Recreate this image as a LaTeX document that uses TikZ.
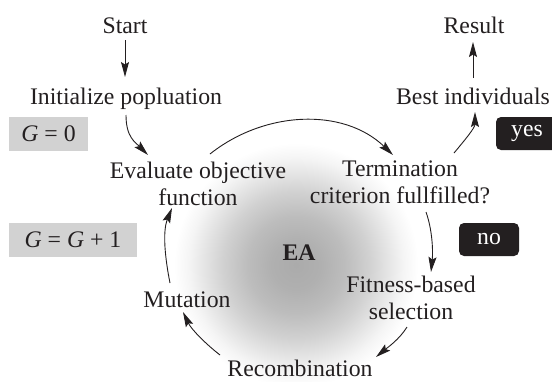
\documentclass[tikz,border=0pt]{standalone}
\usepackage{fontspec}
\setmainfont{Liberation Serif}
\usetikzlibrary{arrows.meta,calc}
\definecolor{ink}{HTML}{231F20}
\definecolor{boxgray}{HTML}{D2D2D2}
\pgfdeclareradialshading{eashade}{\pgfpoint{0bp}{0bp}}{%
  color(0bp)=(black!33); color(5bp)=(black!31); color(10bp)=(black!26);
  color(15bp)=(black!18); color(19bp)=(black!10); color(22bp)=(black!4); color(25bp)=(white); color(50bp)=(white)}
\tikzset{
  lbl/.style={inner sep=0pt, text=ink, font=\fontsize{23.75}{27}\selectfont, align=center},
  graybox/.style={fill=boxgray, inner sep=0pt, text=ink, font=\fontsize{23.75}{27}\selectfont},
  blackbox/.style={fill=ink, rounded corners=5pt, inner sep=0pt, text=white, font=\fontsize{23.75}{27}\selectfont},
  arr/.style={draw=ink, line width=0.9pt, -{Stealth[length=15pt,width=8pt,inset=2.5pt]}}
}
\begin{document}
\begin{tikzpicture}[x=1pt,y=-1pt]
\useasboundingbox (0,0) rectangle (552,381);
\shade[shading=eashade] (296,265) circle (122);

\node[lbl, anchor=base] (start) at (125,33) {Start};
\node[lbl, anchor=base] (init) at (126,104) {Initialize popluation};
\node[lbl, anchor=base] (result) at (474,33) {Result};
\node[lbl, anchor=base] (best) at (473,104) {Best individuals};
\node[lbl] (eval) at (198,183.5) {Evaluate objective\\function};
\node[lbl] (term) at (400,182.5) {Termination\\criterion fullfilled?};
\node[lbl] (fit) at (411,298) {Fitness-based\\selection};
\node[lbl, anchor=base] (mut) at (187,307) {Mutation};
\node[lbl, anchor=base] (rec) at (300,376) {Recombination};
\node[lbl, anchor=base, font=\fontsize{23.75}{27}\selectfont\bfseries] (ea) at (299,260) {EA};

\node[graybox, minimum width=79pt, minimum height=34pt] (g0) at (48.5,134) {\textit{G} = 0};
\node[graybox, minimum width=128pt, minimum height=34pt] (g1) at (73,240) {\textit{G} = \textit{G} + 1};
\node[blackbox, minimum width=62pt, minimum height=33pt] (yes) at (527,133.5) {yes};
\node[blackbox, minimum width=60pt, minimum height=33pt] (no) at (489,239.5) {no};

% connectors
\draw[arr] ($(start.base)+(0,7)$) -- ($(init.base)+(-1,-27)$);
\draw[arr] ($(init.base)+(0,11)$) .. controls +(0,22) and +(-13,-13) .. ($(eval)+(-50,-28.5)$);
\draw[arr] ($(eval)+(12,-29.5)$) .. controls +(54,-43) and +(-50,-48) .. ($(term)+(-7,-27.5)$);
\draw[arr] ($(term)+(54,-29.5)$) .. controls +(10,-12) and +(0,16) .. ($(best.base)+(2,8)$);
\draw[arr] ($(best.base)+(0,-26)$) -- ($(result.base)+(-1,9)$);
\draw[arr] ($(term)+(26,29.5)$) .. controls +(6.7,19) and +(2,-20) .. ($(fit)+(20,-26)$);
\draw[arr] ($(fit)+(-4,29)$) .. controls +(-7.6,12.4) and +(11.2,-9.2) .. ($(rec.base)+(76,-19)$);
\draw[arr] ($(rec.base)+(-80,-21)$) .. controls +(-15,-11.7) and +(8.3,17.2) .. ($(mut.base)+(-4,5)$);
\draw[arr] ($(mut.base)+(-17,-24)$) .. controls +(-5,-25) and +(-9.6,23.5) .. ($(eval)+(-26,24.5)$);
\end{tikzpicture}
\end{document}
